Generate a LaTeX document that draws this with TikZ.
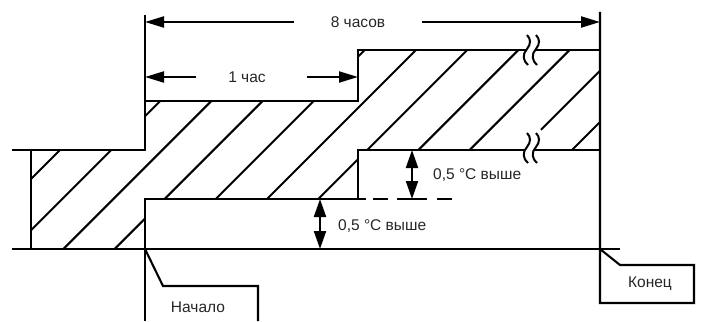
\documentclass[tikz,border=0pt]{standalone}
\usepackage{fontspec}
\setmainfont{Liberation Sans}
\usetikzlibrary{arrows.meta}
\newcommand{\mybrk}[2]{%
  \begin{scope}[shift={(#1,#2)}]
    \fill[white] (0,0) .. controls (4,4) and (4,9) .. (0,14) .. controls (-5,19) and (-4,26) .. (1,30)
      -- (10,30) .. controls (5,26) and (4,19) .. (9,14) .. controls (13,9) and (13,4) .. (9,0) -- cycle;
    \draw[brk] (0,0) .. controls (4,4) and (4,9) .. (0,14) .. controls (-5,19) and (-4,26) .. (1,30);
    \draw[brk] (9,0) .. controls (13,4) and (13,9) .. (9,14) .. controls (4,19) and (5,26) .. (10,30);
  \end{scope}}
\begin{document}
\begin{tikzpicture}[x=1pt,y=-1pt,
  ln/.style={line width=2.1pt, line join=miter},
  hatchln/.style={line width=2pt},
  brk/.style={line width=2pt},
  lbl/.style={font=\fontsize{15.5}{18}\selectfont, text=black!85, inner sep=0pt},
  dimarr/.style={line width=2.1pt, -{Triangle[length=19pt,width=11pt]}},
  dbl/.style={line width=2.1pt, {Triangle[length=18pt,width=12pt]}-{Triangle[length=18pt,width=12pt]}},
]
\useasboundingbox (0,0) rectangle (703,321);

% hatching
\begin{scope}
  \clip (31,249) -- (31,150) -- (145,150) -- (145,101) -- (358,101) -- (358,50) -- (600,50)
        -- (600,150) -- (358,150) -- (358,199) -- (145,199) -- (145,249) -- cycle;
  \foreach \hc in {210,261.2,312.4,363.6,414.8,466,517.2,568.4,619.6,722}
    \draw[hatchln] (\hc,0) -- (\hc-300,300);
  \draw[hatchln] (670.8,0) -- (541,129.8);
\end{scope}

% profiles
\draw[ln] (12,150) -- (145,150) -- (145,15);
\draw[ln] (145,101) -- (358,101) -- (358,50) -- (600,50);
\draw[ln] (31,150) -- (31,249);
\draw[ln] (12,249) -- (620,249);
\draw[ln] (145,321) -- (145,199) -- (358,199) -- (358,150) -- (600,150);
\draw[ln] (600,12) -- (600,303) -- (694,303) -- (694,265) -- (620,265) -- (600,249);
\draw[ln] (145,249) -- (163,286) -- (258,286) -- (258,321);
\draw[ln, dash pattern=on 8pt off 7pt on 15pt off 9pt on 30pt off 10pt on 15pt] (358,199) -- (452,199);

% break marks
\mybrk{527}{35}
\mybrk{527}{133}

% dimension 8 hours
\coordinate (a8l) at (145,22);
\coordinate (a8r) at (600,22);
\node[lbl] (t8) at (358,22) {8 часов};
\draw[dimarr] ([xshift=-37pt]t8.west) -- (a8l);
\draw[dimarr] ([xshift=37pt]t8.east) -- (a8r);

% dimension 1 hour
\coordinate (a1l) at (145,77);
\coordinate (a1r) at (358,77);
\node[lbl] (t1) at (247,77) {1 час};
\draw[dimarr] ([xshift=-32pt]t1.west) -- (a1l);
\draw[dimarr] ([xshift=41pt]t1.east) -- (a1r);

% 0.5 C arrows
\coordinate (d1t) at (320,199);
\coordinate (d1b) at (320,249);
\draw[dbl] (d1t) -- (d1b);
\node[lbl, anchor=west] (t05a) at (338,226) {0,5 °C выше};
\coordinate (d2t) at (412,150);
\coordinate (d2b) at (412,199);
\draw[dbl] (d2t) -- (d2b);
\node[lbl, anchor=west] (t05b) at (433,175) {0,5 °C выше};

% start / end labels
\node[lbl] (start) at (198,307) {Начало};
\node[lbl] (end) at (650,284) {Конец};
\end{tikzpicture}
\end{document}
